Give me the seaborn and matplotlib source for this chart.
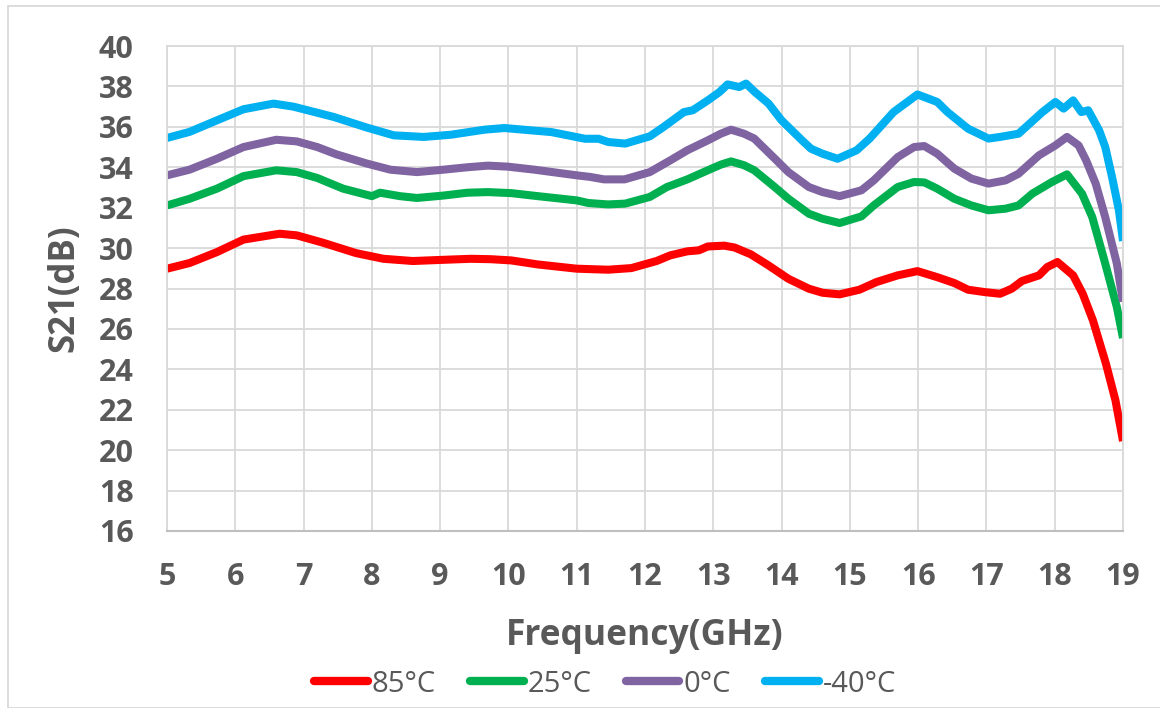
import matplotlib
matplotlib.use("Agg")
import matplotlib.pyplot as plt
import seaborn as sns
import pandas as pd
from matplotlib.patches import Rectangle

# S21 gain versus frequency at four temperatures
freq_85 = [5.0, 5.33, 5.73, 6.12, 6.65, 6.9, 7.28, 7.77, 8.17, 8.6, 9.05, 9.45, 9.74, 10.04, 10.43,
           11.0, 11.46, 11.8, 12.17, 12.37, 12.62, 12.79, 12.92, 13.16, 13.31, 13.55, 13.81, 14.1,
           14.4, 14.6, 14.85, 15.14, 15.39, 15.7, 15.99, 16.28, 16.53, 16.73, 16.98, 17.2, 17.37,
           17.52, 17.77, 17.89, 18.04, 18.27, 18.41, 18.56, 18.75, 18.89, 19.0]
s21_85 = [28.98, 29.26, 29.8, 30.42, 30.71, 30.63, 30.27, 29.75, 29.47, 29.36, 29.42, 29.47, 29.45,
          29.39, 29.19, 28.98, 28.93, 29.01, 29.36, 29.64, 29.84, 29.89, 30.08, 30.12, 30.03, 29.69,
          29.14, 28.48, 27.99, 27.79, 27.71, 27.94, 28.32, 28.65, 28.86, 28.56, 28.27, 27.94, 27.82,
          27.74, 27.99, 28.37, 28.65, 29.06, 29.31, 28.65, 27.74, 26.42, 24.28, 22.46, 20.45]

freq_25 = [5.0, 5.33, 5.73, 6.12, 6.6, 6.9, 7.2, 7.58, 8.0, 8.12, 8.41, 8.66, 9.05, 9.4, 9.7, 10.04,
           10.43, 11.0, 11.17, 11.46, 11.71, 12.07, 12.32, 12.62, 12.92, 13.11, 13.26, 13.45, 13.6,
           13.9, 14.1, 14.4, 14.6, 14.85, 15.17, 15.35, 15.7, 15.94, 16.09, 16.28, 16.53, 16.78,
           17.03, 17.28, 17.47, 17.67, 17.96, 18.18, 18.4, 18.55, 18.74, 18.91, 19.0]
s21_25 = [32.11, 32.44, 32.94, 33.56, 33.85, 33.76, 33.47, 32.94, 32.57, 32.74, 32.57, 32.48, 32.6,
          32.74, 32.77, 32.72, 32.57, 32.36, 32.23, 32.16, 32.2, 32.53, 33.02, 33.4, 33.85, 34.13,
          34.29, 34.1, 33.85, 33.02, 32.44, 31.7, 31.45, 31.24, 31.57, 32.11, 33.02, 33.27, 33.25,
          32.94, 32.44, 32.11, 31.87, 31.95, 32.11, 32.69, 33.27, 33.65, 32.69, 31.53, 29.23, 27.08,
          25.55]

freq_0 = [5.0, 5.33, 5.73, 6.12, 6.6, 6.9, 7.2, 7.48, 7.93, 8.27, 8.66, 9.05, 9.4, 9.7, 9.99, 10.38,
          11.0, 11.2, 11.4, 11.7, 12.07, 12.37, 12.62, 12.92, 13.11, 13.26, 13.45, 13.6, 13.9, 14.1,
          14.4, 14.6, 14.85, 15.17, 15.35, 15.7, 15.94, 16.09, 16.28, 16.53, 16.78, 17.03, 17.28,
          17.47, 17.77, 18.01, 18.18, 18.35, 18.46, 18.6, 18.74, 18.91, 19.0]
s21_0 = [33.6, 33.88, 34.42, 35.0, 35.36, 35.28, 35.0, 34.64, 34.18, 33.88, 33.76, 33.88, 34.0,
         34.08, 34.03, 33.88, 33.6, 33.52, 33.4, 33.4, 33.76, 34.34, 34.84, 35.33, 35.66, 35.86,
         35.66, 35.42, 34.43, 33.76, 33.02, 32.77, 32.57, 32.86, 33.35, 34.5, 35.0, 35.05, 34.67,
         33.93, 33.44, 33.19, 33.35, 33.68, 34.59, 35.08, 35.5, 35.08, 34.34, 33.19, 31.53, 29.23,
         27.35]

freq_m40 = [5.0, 5.33, 5.73, 6.12, 6.56, 6.85, 7.44, 7.93, 8.32, 8.76, 9.16, 9.65, 9.94, 10.63,
            11.12, 11.32, 11.46, 11.71, 12.07, 12.27, 12.57, 12.7, 12.92, 13.09, 13.21, 13.38,
            13.48, 13.61, 13.81, 14.0, 14.3, 14.43, 14.6, 14.82, 15.1, 15.29, 15.64, 15.99, 16.28,
            16.43, 16.73, 17.03, 17.2, 17.47, 17.82, 18.01, 18.13, 18.27, 18.39, 18.49, 18.65,
            18.74, 18.84, 18.94, 19.0]
s21_m40 = [35.45, 35.75, 36.32, 36.87, 37.15, 37.0, 36.49, 35.96, 35.58, 35.5, 35.61, 35.86, 35.94,
           35.74, 35.41, 35.41, 35.25, 35.17, 35.53, 35.99, 36.73, 36.82, 37.31, 37.72, 38.1, 37.97,
           38.14, 37.72, 37.15, 36.32, 35.33, 34.92, 34.67, 34.42, 34.84, 35.42, 36.73, 37.6, 37.23,
           36.73, 35.91, 35.42, 35.5, 35.66, 36.73, 37.23, 36.9, 37.31, 36.73, 36.82, 35.83, 35.0,
           33.51, 31.87, 30.35]

series_labels = ["85°C", "25°C", "0°C", "-40°C"]
series_colors = ["#FF0000", "#00B050", "#8064A2", "#00B0F0"]
x_ticks = list(range(5, 20))
y_ticks = list(range(16, 41, 2))

frames = []
for lab, f, v in zip(series_labels,
                     [freq_85, freq_25, freq_0, freq_m40],
                     [s21_85, s21_25, s21_0, s21_m40]):
    frames.append(pd.DataFrame({"Frequency": f, "S21": v, "Temp": lab}))
df = pd.concat(frames, ignore_index=True)

sns.set_theme(style="white")
plt.rcParams["font.family"] = ["Open Sans", "DejaVu Sans"]

text_gray = "#595959"
grid_gray = "#D9D9D9"

fig = plt.figure(figsize=(11.6, 7.08), dpi=100)
ax = fig.add_axes([167 / 1160, 1 - 531 / 708, (1123 - 167) / 1160, (531 - 46) / 708])

sns.lineplot(data=df, x="Frequency", y="S21", hue="Temp", hue_order=series_labels,
             palette=series_colors, linewidth=5.8, ax=ax, estimator=None, sort=False,
             legend=True)
for ln in ax.get_lines():
    ln.set_solid_capstyle("butt")
    ln.set_solid_joinstyle("round")

ax.set_xlim(5, 19)
ax.set_ylim(16, 40)
ax.set_xticks(x_ticks)
ax.set_yticks(y_ticks)
ax.grid(True, color=grid_gray, linewidth=1.3)
ax.set_axisbelow(True)
for side in ["left", "right", "top"]:
    ax.spines[side].set_color(grid_gray)
    ax.spines[side].set_linewidth(1.3)
ax.spines["bottom"].set_color("#BFBFBF")
ax.spines["bottom"].set_linewidth(1.5)

ax.tick_params(axis="both", length=0, labelsize=22, labelcolor=text_gray)
ax.tick_params(axis="y", pad=24)
ax.tick_params(axis="x", pad=22)
for t in ax.get_xticklabels() + ax.get_yticklabels():
    t.set_fontweight("bold")

ax.set_xlabel("Frequency(GHz)", fontsize=25.5, fontweight="bold", color=text_gray, labelpad=19)
ax.set_ylabel("S21(dB)", fontsize=25, fontweight="bold", color=text_gray, labelpad=12)

handles, labels = ax.get_legend_handles_labels()
ax.legend(handles, labels, loc="center", bbox_to_anchor=(605 / 1160, 1 - 684 / 708),
          bbox_transform=fig.transFigure, ncol=4, frameon=False, fontsize=21,
          handlelength=1.85, handletextpad=0.15, columnspacing=1.15, labelcolor=text_gray)
for h in ax.get_legend().legend_handles:
    h.set_linewidth(6)
    h.set_solid_capstyle("round")

# Outer chart border
fig.patches.append(Rectangle((8 / 1160, 0), (1160 - 8) / 1160 + 0.01, 1 - 6 / 708,
                             transform=fig.transFigure, fill=False,
                             edgecolor=grid_gray, linewidth=1.3))

fig.savefig("out.png", dpi=100)
